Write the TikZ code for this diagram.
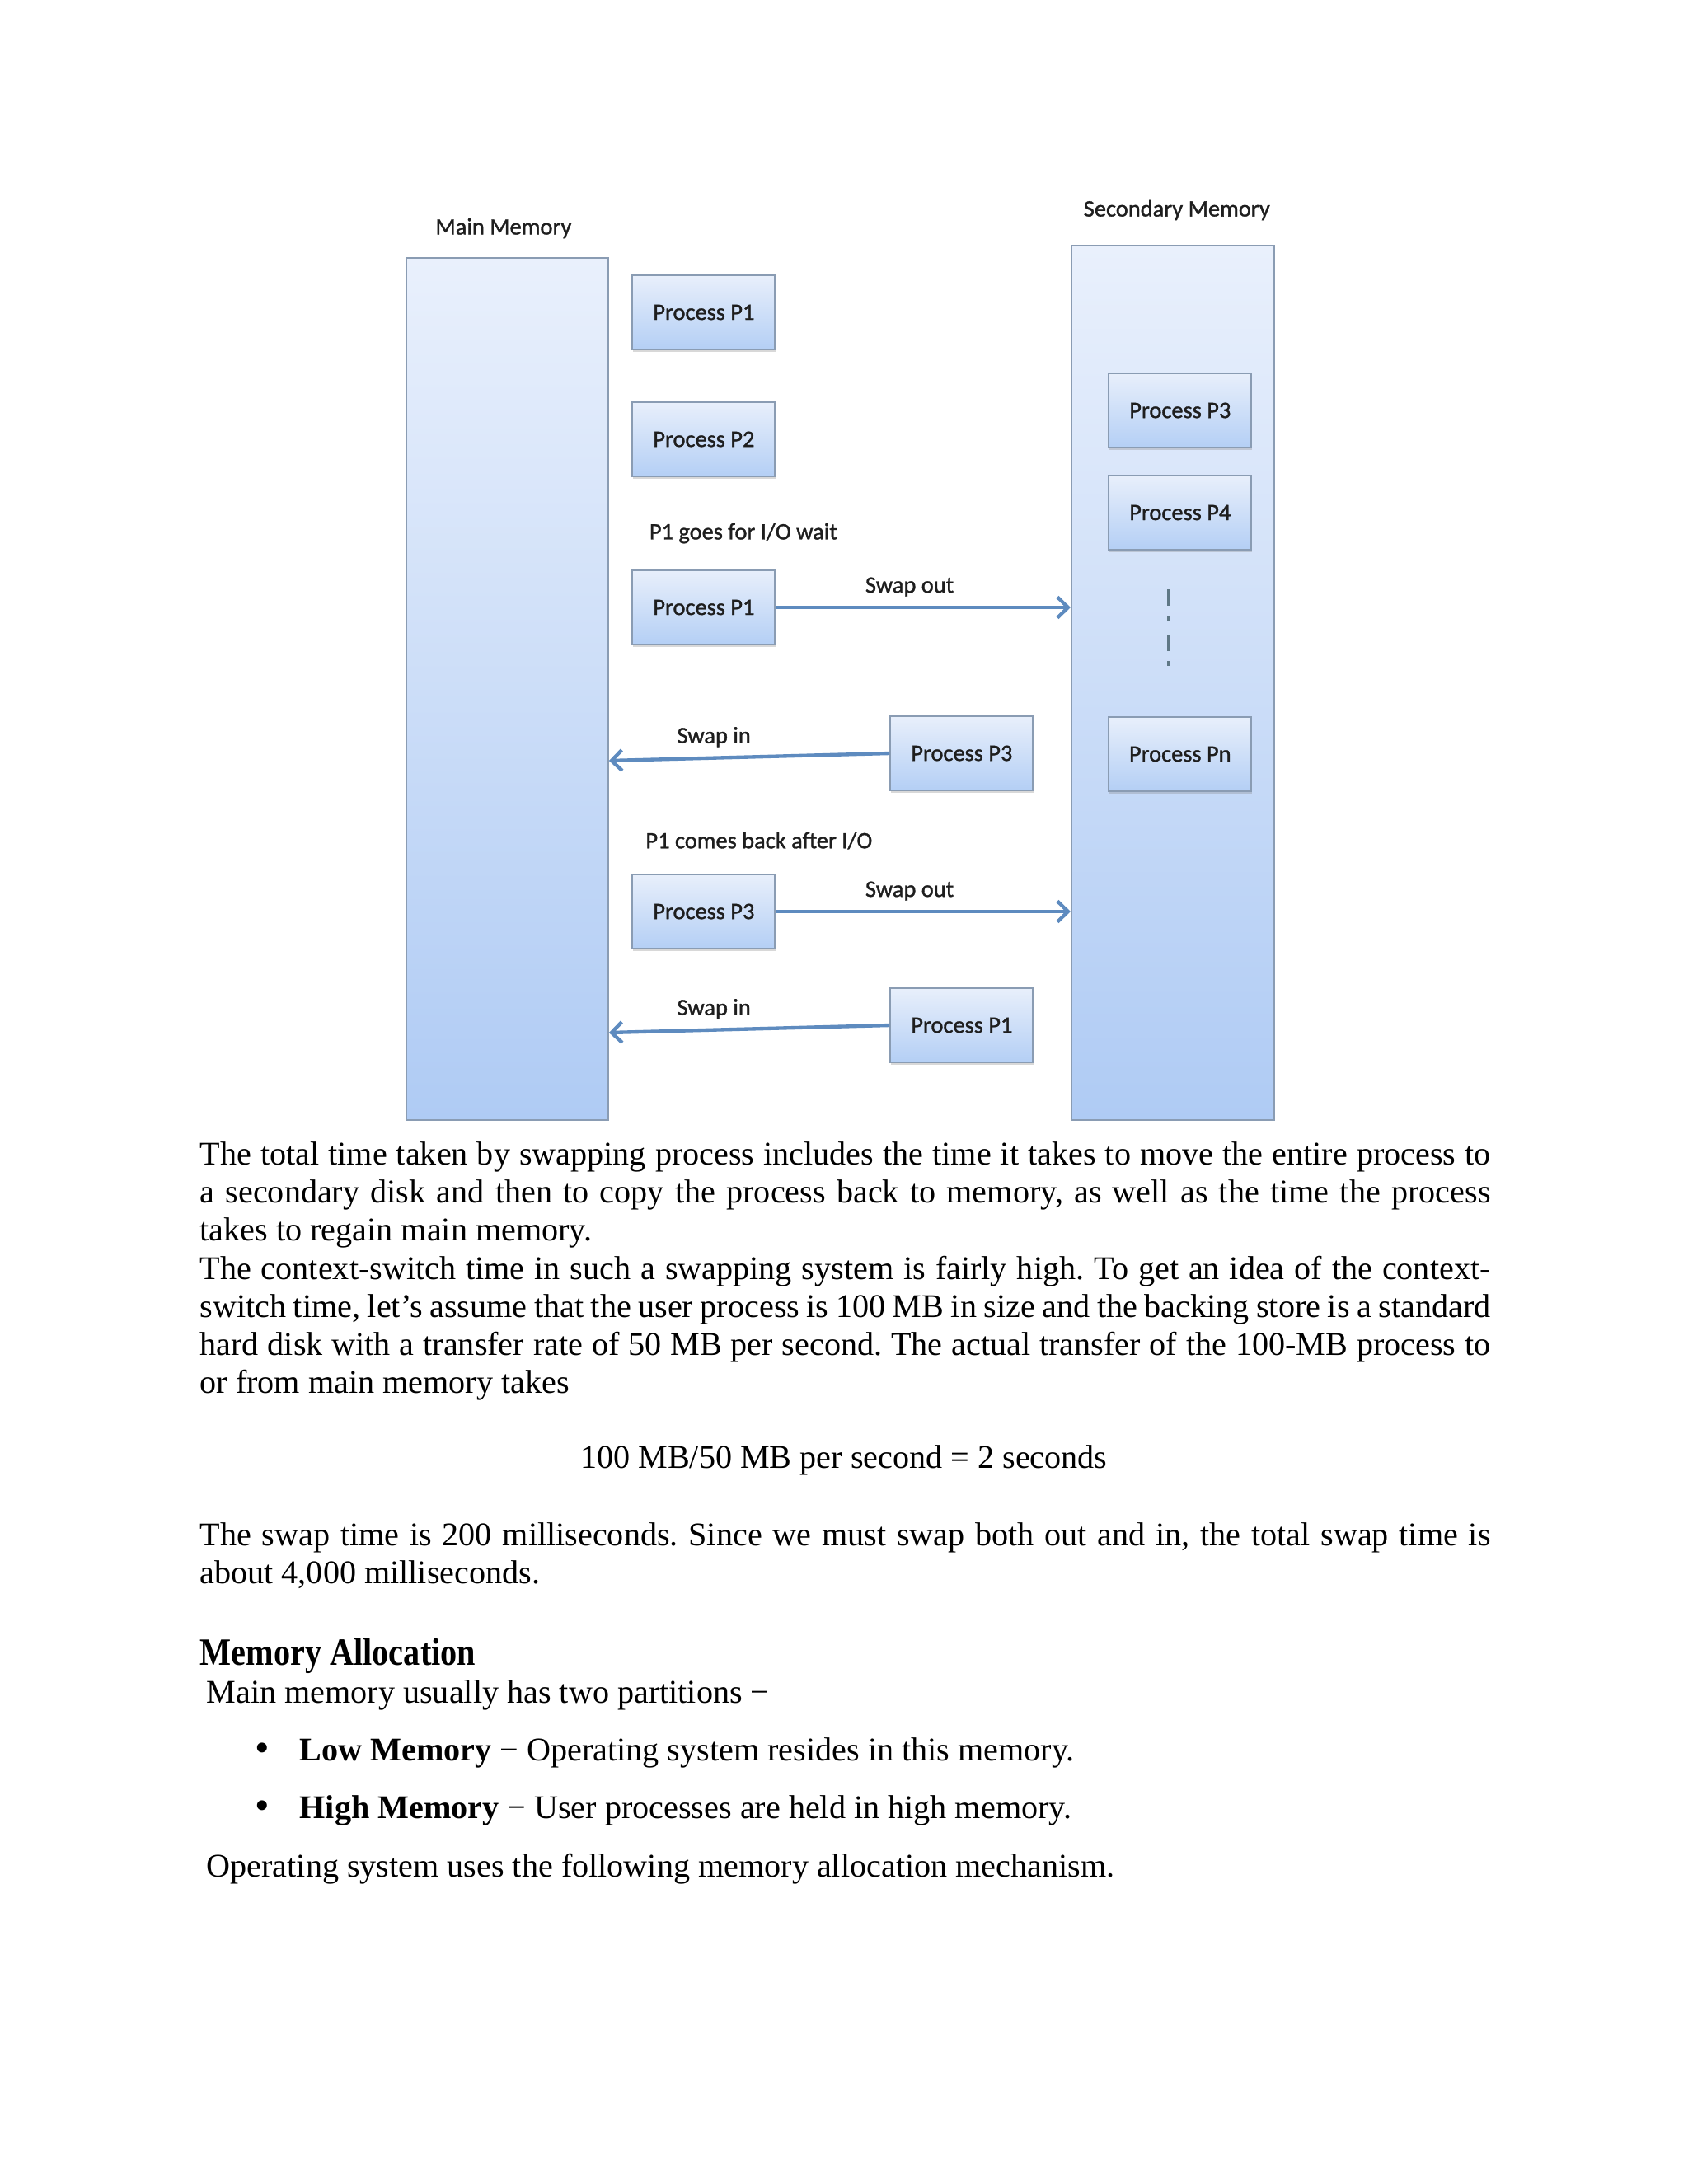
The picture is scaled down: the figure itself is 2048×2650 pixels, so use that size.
\documentclass[tikz,border=0pt]{standalone}
\usepackage{fontspec}
\setmainfont{Liberation Serif}
\newfontfamily\calib[FakeBold=1.2]{Carlito}
\newfontfamily\headfont[FakeStretch=0.86]{Liberation Serif}
\usepackage{tikz}
\usetikzlibrary{arrows.meta, calc, shadows}
\frenchspacing

\definecolor{memtop}{HTML}{E9F0FC}
\definecolor{membot}{HTML}{AFCBF4}
\definecolor{boxtop}{HTML}{E8EFFB}
\definecolor{boxbot}{HTML}{B4CFF5}
\definecolor{boxline}{HTML}{8A9CB3}
\definecolor{arrowblue}{HTML}{5E8BBF}
\definecolor{dotgray}{HTML}{5F7886}
\definecolor{labelgray}{HTML}{1E1E1E}

\tikzset{
  memoria/.style={draw=boxline, line width=0.6pt, top color=memtop, bottom color=membot},
  proc/.style={draw=boxline, line width=0.6pt, top color=boxtop, bottom color=boxbot,
    minimum width=51.7pt, minimum height=26.9pt, inner sep=0pt, text=labelgray,
    font=\calib\fontsize{8.5}{10}\selectfont,
    drop shadow={shadow xshift=0.3pt, shadow yshift=-0.9pt, opacity=0.3}},
  etiqueta/.style={font=\calib\fontsize{8.5}{10}\selectfont, text=labelgray},
  flecha/.style={draw=arrowblue, line width=1.3pt, -{Straight Barb[length=3.8pt, width=7.5pt]}},
  parrafo/.style={font=\fontsize{12}{13.8}\selectfont, inner sep=0pt, text width=468pt,
    align=justify, anchor=north west},
  linea/.style={font=\fontsize{12}{13.8}\selectfont, inner sep=0pt, anchor=base west}
}

\begin{document}
\begin{tikzpicture}[x=0.29883pt, y=-0.29887pt]
    \fill[white] (0,0) rectangle (2048,2650);
    \useasboundingbox (0,0) rectangle (2048,2650);
    % memorias
    \node[memoria, minimum width=73.2pt, minimum height=312.6pt] (mainmem) at (615.5,836) {};
    \node[memoria, minimum width=73.5pt, minimum height=317pt] (secmem) at (1423,828.5) {};
    \node[etiqueta] (lblmain) at (611,277) {Main Memory};
    \node[etiqueta] (lblsec) at (1428,255) {Secondary Memory};
    % procesos
    \foreach \nm/\x/\y/\txt in {mpa/854/379/P1, mpb/854/533/P2, mpc/854/737/P1,
        spa/1167/914/P3, mpd/854/1106/P3, spb/1167/1244/P1,
        sec3/1432/498/P3, sec4/1432/622/P4, secn/1432/915/Pn}
        \node[proc] (\nm) at (\x,\y) {Process \txt};
    \node[etiqueta] (lblwait) at (902,647) {P1 goes for I/O wait};
    \node[etiqueta] (lblback) at (921,1020) {P1 comes back after I/O};
    % swap out / swap in
    \draw[flecha] (mpc.east) -- (mpc.east -| secmem.west)
        node[etiqueta, above, pos=0.454] (out1) {Swap out};
    \draw[flecha] (spa.west) -- ($(spa.west -| mainmem.east)+(0,9)$)
        node[etiqueta, above, pos=0.626] (in1) {Swap in};
    \draw[flecha] (mpd.east) -- (mpd.east -| secmem.west)
        node[etiqueta, above, pos=0.454] (out2) {Swap out};
    \draw[flecha] (spb.west) -- ($(spb.west -| mainmem.east)+(0,9)$)
        node[etiqueta, above, pos=0.626] (in2) {Swap in};
    % puntos entre P4 y Pn
    \draw[dotgray, line width=1.2pt, dash pattern=on 6pt off 3.6pt on 1.8pt off 5.1pt]
        (1418,715) -- (1418,808);
    % texto de la pagina
    \node[parrafo] (par1) at (242,1385) {The total time taken by swapping process includes the time it takes to move the entire process to\linebreak
        a secondary disk and then to copy the process back to memory, as well as the time the process\linebreak
        takes to regain main memory.\par
        The context-switch time in such a swapping system is fairly high. To get an idea of the context-\linebreak
        switch time, let’s assume that the user process is 100 MB in size and the backing store is a standard\linebreak
        hard disk with a transfer rate of 50 MB per second. The actual transfer of the 100-MB process to\linebreak
        or from main memory takes};
    \node[linea, anchor=base] (ecuacion) at (1024,1781) {100 MB/50 MB per second = 2 seconds};
    \node[parrafo] (par2) at (242,1847) {The swap time is 200 milliseconds. Since we must swap both out and in, the total swap time is\linebreak
        about 4,000 milliseconds.};
    \node[linea] (titulo) at (242,2020) {\headfont\bfseries\fontsize{14}{16}\selectfont Memory Allocation};
    \node[linea] (intro) at (250,2066) {Main memory usually has two partitions −};
    \node[linea, anchor=base, font=\fontsize{15}{15}\selectfont] (bul1) at (318,2137) {\textbullet};
    \node[linea] (item1) at (363,2136) {\textbf{Low Memory} − Operating system resides in this memory.};
    \node[linea, anchor=base, font=\fontsize{15}{15}\selectfont] (bul2) at (318,2207) {\textbullet};
    \node[linea] (item2) at (363,2206) {\textbf{High Memory} − User processes are held in high memory.};
    \node[linea] (cierre) at (250,2277) {Operating system uses the following memory allocation mechanism.};
\end{tikzpicture}
\end{document}
